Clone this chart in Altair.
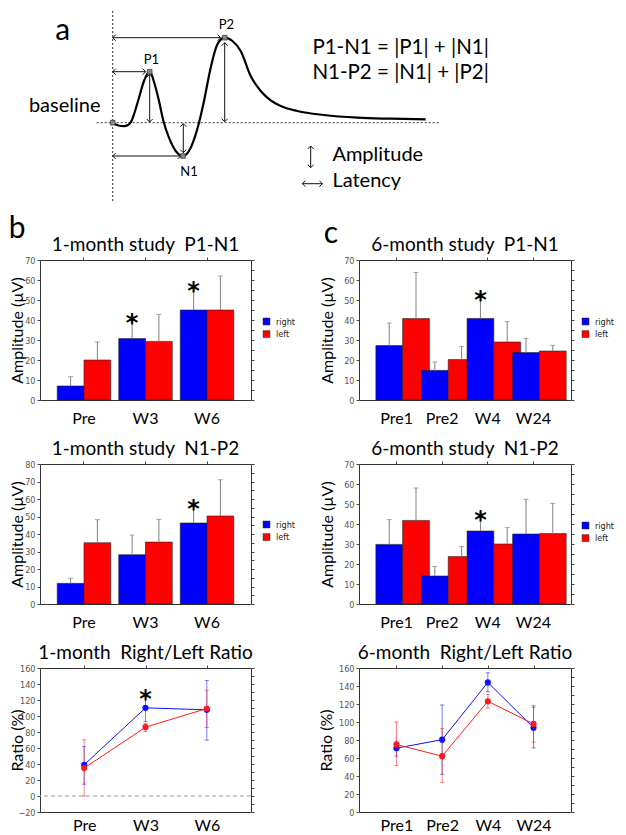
import altair as alt
import pandas as pd

BLUE = "#0000ff"
RED = "#ff0000"
NUMFONT = "'Liberation Sans Narrow', 'DejaVu Sans Condensed', 'Liberation Sans', sans-serif"
TFONT = "Lato"

# ---------------- panel a : schematic waveform ----------------
curve_latency = [0, 5, 11, 16, 19, 21.3, 26.3, 31.3, 37, 42, 46.3, 50.7, 56.3, 63, 70.3, 78, 83,
                 86.3, 91.3, 98, 104.7, 112, 119.7, 128, 138, 148, 158, 168, 184.7, 211, 244.7, 278, 313]
curve_amplitude = [0, -2.6, -3.5, -1.8, 2.2, 8.4, 25, 41.7, 51, 38.4, 21.7, 1.7, -15, -28.3, -33.3, -25, -11.6,
                   0, 21.7, 55, 78.4, 85, 81.7, 71.7, 46.7, 31.7, 22.4, 16.7, 11.7, 7.7, 5, 4, 3.4]
peak_latency = [0, 37, 70.3, 112]
peak_amplitude = [0, 51, -33.3, 85]

lat_arrow_amp = [51, -33.3, 85]
lat_arrow_start = [0, 0, 0]
lat_arrow_end = [33, 68, 108]
amp_arrow_lat = [37, 70.6, 112]
amp_arrow_low = [0.7, -30, 1]
amp_arrow_high = [48.4, -1, 80]
key_v_lat, key_v_low, key_v_high = 198, -45, -23.3
key_h_amp, key_h_start, key_h_end = -61, 189.7, 209.7

a_center_text = ["a", "P1", "P2", "N1", "baseline"]
a_center_lat = [-50, 38.7, 113.7, 76.3, -48]
a_center_amp = [91.7, 62.4, 97.7, -49, 16.7]
a_center_size = [30, 13, 13, 13, 20]
a_left_text = ["P1-N1 = |P1| + |N1|", "N1-P2 = |N1| + |P2|", "Amplitude", "Latency", "b", "c"]
a_left_lat = [199.7, 199.7, 219.7, 219.7, -104, 211]
a_left_amp = [75, 50, -32.3, -58.3, -106.3, -111.3]
a_left_size = [20.5, 20.5, 20, 20, 30, 30]

XS = alt.Scale(domain=[-72.7, 138.3], nice=False, zero=False)
YS = alt.Scale(domain=[-73.3, 113.7], nice=False, zero=False)


def ax(f):
    return alt.X(f, type="quantitative", scale=XS, axis=None)


def ay(f):
    return alt.Y(f, type="quantitative", scale=YS, axis=None)


curve_df = pd.DataFrame({"lat": curve_latency, "amp": curve_amplitude, "i": range(len(curve_latency))})
curve = alt.Chart(curve_df).mark_line(color="black", strokeWidth=2.2, interpolate="monotone").encode(
    x=ax("lat"), y=ay("amp"), order="i:Q")

vline_df = pd.DataFrame({"lat": [0], "lo": [-78.3], "hi": [113.7]})
vline = alt.Chart(vline_df).mark_rule(color="#333", strokeWidth=1, strokeDash=[2, 2]).encode(
    x=ax("lat"), y=ay("lo"), y2="hi")
base_df = pd.DataFrame({"amp": [0], "lo": [-16], "hi": [328]})
baseline = alt.Chart(base_df).mark_rule(color="#333", strokeWidth=1, strokeDash=[2, 2]).encode(
    y=ay("amp"), x=ax("lo"), x2="hi")

segs, heads = [], []
for a, s, e in zip(lat_arrow_amp + [key_h_amp], lat_arrow_start + [key_h_start], lat_arrow_end + [key_h_end]):
    segs.append({"x": s, "y": a, "x2": e, "y2": a})
    heads.append({"x": s, "y": a, "ang": 180})
    heads.append({"x": e, "y": a, "ang": 0})
for l, lo, hi in zip(amp_arrow_lat + [key_v_lat], amp_arrow_low + [key_v_low], amp_arrow_high + [key_v_high]):
    segs.append({"x": l, "y": lo, "x2": l, "y2": hi})
    heads.append({"x": l, "y": lo, "ang": 90})
    heads.append({"x": l, "y": hi, "ang": 270})
seg_chart = alt.Chart(pd.DataFrame(segs)).mark_rule(color="#111", strokeWidth=1).encode(
    x=ax("x"), y=ay("y"), x2="x2", y2="y2")
head_chart = alt.Chart(pd.DataFrame(heads)).mark_point(
    shape="M-1,-1L0,0L-1,1", filled=False, size=36, strokeWidth=1, color="#111", opacity=1).encode(
    x=ax("x"), y=ay("y"), angle=alt.Angle("ang:Q", scale=None))

peaks = alt.Chart(pd.DataFrame({"lat": peak_latency, "amp": peak_amplitude})).mark_square(
    size=22, color="#888", stroke="#333", strokeWidth=0.7, opacity=1).encode(x=ax("lat"), y=ay("amp"))

tc = alt.Chart(pd.DataFrame({"t": a_center_text, "lat": a_center_lat, "amp": a_center_amp, "fs": a_center_size})).mark_text(
    font=TFONT, align="center", baseline="middle", color="black").encode(
    x=ax("lat"), y=ay("amp"), text="t:N", size=alt.Size("fs:Q", scale=None))
tl = alt.Chart(pd.DataFrame({"t": a_left_text, "lat": a_left_lat, "amp": a_left_amp, "fs": a_left_size})).mark_text(
    font=TFONT, align="left", baseline="middle", color="black").encode(
    x=ax("lat"), y=ay("amp"), text="t:N", size=alt.Size("fs:Q", scale=None))

panel_a = alt.layer(vline, baseline, curve, seg_chart, head_chart, peaks, tc, tl).properties(
    width=211, height=187, view=alt.ViewBackground(stroke="transparent"))

blank = alt.Chart(pd.DataFrame({"k": [0]})).mark_point(opacity=0).encode(
    x=alt.value(100), y=alt.value(100)).properties(width=212, height=187,
                                                   view=alt.ViewBackground(stroke="transparent"))

# ---------------- bar data ----------------
m1_cats = ["Pre", "W3", "W6"]
m1_p1n1_right = [7, 30.7, 45]
m1_p1n1_right_sd = [4.7, 11, 12.5]
m1_p1n1_left = [20, 29.3, 45]
m1_p1n1_left_sd = [9, 13.5, 17]
m1_p1n1_sig = ["W3", "W6"]

m1_n1p2_right = [11.8, 28.2, 46.3]
m1_n1p2_right_sd = [2.9, 11.2, 11.6]
m1_n1p2_left = [35, 35.4, 50.3]
m1_n1p2_left_sd = [13.2, 13, 20.7]
m1_n1p2_sig = ["W6"]

m6_cats = ["Pre1", "Pre2", "W4", "W24"]
m6_p1n1_right = [27.2, 14.8, 40.8, 23.7]
m6_p1n1_right_sd = [11.3, 4.2, 12.4, 7.1]
m6_p1n1_left = [40.7, 20.2, 29, 24.5]
m6_p1n1_left_sd = [23.1, 6.6, 10.2, 2.8]
m6_p1n1_sig = ["W4"]

m6_n1p2_right = [29.8, 14, 36.5, 35]
m6_n1p2_right_sd = [12.4, 4.8, 8.5, 17.3]
m6_n1p2_left = [41.8, 23.7, 30, 35.2]
m6_n1p2_left_sd = [16.2, 5, 8.2, 15.1]
m6_n1p2_sig = ["W4"]

# ---------------- ratio data ----------------
r1_p1n1 = [39, 110.2, 107.7]
r1_p1n1_lo = [14.8, 93, 69.8]
r1_p1n1_hi = [61.7, 126, 144.3]
r1_n1p2 = [34.9, 86, 109.4]
r1_n1p2_lo = [0, 80.5, 85.6]
r1_n1p2_hi = [70.2, 90.7, 132.3]
r1_sig = ["W3"]

r6_p1n1 = [70.9, 80.4, 144, 93.7]
r6_p1n1_lo = [62, 41.9, 133.7, 71.2]
r6_p1n1_hi = [78.6, 118.9, 154.7, 116.6]
r6_n1p2 = [75, 62, 123, 97.9]
r6_n1p2_lo = [51.8, 32.8, 115.4, 77.7]
r6_n1p2_hi = [100, 92.6, 130.7, 118.5]
r6_sig = []

sides = ["right", "left"]
series = ["P1-N1", "N1-P2"]


def title(t):
    return alt.TitleParams(t, font=TFONT, fontSize=19, fontWeight="normal", color="black",
                           anchor="middle", frame="group", offset=1)


def yaxis_left(values, ttl, tx):
    return alt.Axis(orient="left", values=values, title=ttl, domain=False, grid=False, tickSize=3,
                    tickColor="#444", labelFont=NUMFONT, labelFontSize=9, labelColor="#555",
                    labelPadding=2, titleFont=TFONT, titleFontSize=16, titleFontWeight="normal",
                    titleColor="black", titleX=tx, titleBaseline="middle", titleAngle=270)


def xaxis_bottom(pad):
    return alt.Axis(title=None, labelAngle=0, ticks=False, domain=False, labelFont=TFONT,
                    labelFontSize=16, labelColor="black", labelPadding=pad)


def top_axis():
    return alt.Axis(orient="top", labels=False, ticks=True, tickSize=3, tickColor="#444",
                    domain=False, title=None)


def right_axis(values):
    return alt.Axis(orient="right", values=values, labels=False, ticks=True, tickSize=3,
                    tickColor="#444", domain=False, grid=False, title=None)


def bar_panel(ttl, cats, r, rsd, l, lsd, sig, ymax, width, pin, pout, lx, ly, tx):
    rows = []
    for i, c in enumerate(cats):
        rows.append({"cat": c, "side": "right", "v": r[i], "top": r[i] + rsd[i], "sig": c in sig})
        rows.append({"cat": c, "side": "left", "v": l[i], "top": l[i] + lsd[i], "sig": False})
    df = pd.DataFrame(rows)
    xs = alt.Scale(paddingInner=pin, paddingOuter=pout)
    ys = alt.Scale(domain=[0, ymax], nice=False)
    xo = alt.XOffset("side:N", sort=sides, scale=alt.Scale(domain=sides, paddingInner=0, paddingOuter=0))
    base = alt.Chart(df)
    bars = base.mark_bar(stroke="#222", strokeWidth=0.6).encode(
        x=alt.X("cat:N", sort=cats, scale=xs, axis=xaxis_bottom(10)),
        xOffset=xo,
        y=alt.Y("v:Q", scale=ys, axis=yaxis_left(list(range(0, ymax + 1, 10)), "Amplitude (µV)", tx)),
        color=alt.Color("side:N", sort=sides, scale=alt.Scale(domain=sides, range=[BLUE, RED]),
                        legend=alt.Legend(orient="none", legendX=lx, legendY=ly, title=None,
                                          symbolType="square", symbolSize=49, symbolStrokeColor="#333",
                                          symbolStrokeWidth=0.5, labelFont=NUMFONT, labelFontSize=9,
                                          labelColor="#222", labelOffset=5, rowPadding=2.6, padding=0)),
    )
    err = base.mark_rule(color="#808080", strokeWidth=1).encode(
        x=alt.X("cat:N", sort=cats, scale=xs, axis=top_axis()),
        xOffset=xo,
        y=alt.Y("v:Q", scale=ys, axis=right_axis(list(range(0, ymax + 1, 5)))),
        y2="top:Q",
    )
    cap = base.mark_tick(color="#808080", thickness=1, size=5).encode(
        x=alt.X("cat:N", sort=cats, scale=xs, axis=None), xOffset=xo,
        y=alt.Y("top:Q", scale=ys, axis=None))
    star = base.transform_filter("datum.sig").mark_text(
        text="*", font="DejaVu Sans", fontWeight="bold", fontSize=24, dy=7, color="black").encode(
        x=alt.X("cat:N", sort=cats, scale=xs, axis=None), xOffset=xo,
        y=alt.Y("top:Q", scale=ys, axis=None))
    return alt.layer(bars, err, cap, star).resolve_axis(x="independent", y="independent").properties(
        title=title(ttl), width=width, height=140)


def ratio_panel(ttl, cats, p, plo, phi, n, nlo, nhi, sig, ymin, width, height, pad, lx, ly, tx, zero_line):
    rows = []
    for i, c in enumerate(cats):
        rows.append({"cat": c, "s": "P1-N1", "m": p[i], "lo": plo[i], "hi": phi[i], "sig": c in sig})
        rows.append({"cat": c, "s": "N1-P2", "m": n[i], "lo": nlo[i], "hi": nhi[i], "sig": False})
    df = pd.DataFrame(rows)
    xs = alt.Scale(type="point", padding=pad)
    ys = alt.Scale(domain=[ymin, 160], nice=False)
    cs = alt.Scale(domain=series, range=["#1010ff", "#ff1a1a"])
    base = alt.Chart(df)
    line = base.mark_line(strokeWidth=1).encode(
        x=alt.X("cat:N", sort=cats, scale=xs, axis=xaxis_bottom(5)),
        y=alt.Y("m:Q", scale=ys, axis=yaxis_left(list(range(ymin, 161, 20)), "Ratio (%)", tx)),
        color=alt.Color("s:N", scale=cs, legend=None),
    )
    err = base.mark_rule(strokeWidth=1, opacity=0.55).encode(
        x=alt.X("cat:N", sort=cats, scale=xs, axis=top_axis()),
        y=alt.Y("lo:Q", scale=ys, axis=right_axis(list(range(ymin, 161, 10)))),
        y2="hi:Q",
        color=alt.Color("s:N", scale=cs, legend=None),
    )
    cap_lo = base.mark_tick(thickness=1, size=4, opacity=0.55).encode(
        x=alt.X("cat:N", sort=cats, scale=xs, axis=None), y=alt.Y("lo:Q", scale=ys, axis=None),
        color=alt.Color("s:N", scale=cs, legend=None))
    cap_hi = base.mark_tick(thickness=1, size=4, opacity=0.55).encode(
        x=alt.X("cat:N", sort=cats, scale=xs, axis=None), y=alt.Y("hi:Q", scale=ys, axis=None),
        color=alt.Color("s:N", scale=cs, legend=None))
    pts = base.mark_circle(size=38, opacity=1).encode(
        x=alt.X("cat:N", sort=cats, scale=xs, axis=None), y=alt.Y("m:Q", scale=ys, axis=None),
        color=alt.Color("s:N", scale=cs,
                        legend=alt.Legend(orient="none", legendX=lx, legendY=ly, title=None,
                                          symbolType="M-2.43,-0.14H2.43V0.14H-2.43Z M-0.86,0A0.86,0.86,0,1,1,0.86,0A0.86,0.86,0,1,1,-0.86,0Z",
                                          symbolSize=49, symbolStrokeWidth=0, symbolOpacity=1,
                                          labelFont=NUMFONT, labelFontSize=9, labelColor="#222",
                                          labelOffset=9, rowPadding=2.6, padding=0)))
    layers = [line, err, cap_lo, cap_hi, pts]
    if zero_line:
        layers.insert(0, alt.Chart(pd.DataFrame({"z": [0]})).mark_rule(
            color="#999", strokeDash=[4, 3], strokeWidth=1).encode(y=alt.Y("z:Q", scale=ys, axis=None)))
    if sig:
        layers.append(base.transform_filter("datum.sig").mark_text(
            text="*", font="DejaVu Sans", fontWeight="bold", fontSize=24, dy=5, color="black").encode(
            x=alt.X("cat:N", sort=cats, scale=xs, axis=None), y=alt.Y("hi:Q", scale=ys, axis=None)))
    return alt.layer(*layers).resolve_axis(x="independent", y="independent").properties(
        title=title(ttl), width=width, height=height)


NB = "\u00a0 "
b1 = bar_panel("1-month study" + NB + "P1-N1", m1_cats, m1_p1n1_right, m1_p1n1_right_sd, m1_p1n1_left,
               m1_p1n1_left_sd, m1_p1n1_sig, 70, 211, 0.13, 0.28, 222, 57, -22.6)
b2 = bar_panel("1-month study" + NB + "N1-P2", m1_cats, m1_n1p2_right, m1_n1p2_right_sd, m1_n1p2_left,
               m1_n1p2_left_sd, m1_n1p2_sig, 80, 211, 0.13, 0.28, 222, 56, -22.6)
b3 = ratio_panel("1-month" + NB + "Right/Left Ratio", m1_cats, r1_p1n1, r1_p1n1_lo, r1_p1n1_hi,
                 r1_n1p2, r1_n1p2_lo, r1_n1p2_hi, r1_sig, -20, 211, 144, 0.72, 221, 60, -23, True)
c1 = bar_panel("6-month study" + NB + "P1-N1", m6_cats, m6_p1n1_right, m6_p1n1_right_sd, m6_p1n1_left,
               m6_p1n1_left_sd, m6_p1n1_sig, 70, 212, 0.09, 0.37, 222, 57, -31.6)
c2 = bar_panel("6-month study" + NB + "N1-P2", m6_cats, m6_n1p2_right, m6_n1p2_right_sd, m6_n1p2_left,
               m6_n1p2_left_sd, m6_n1p2_sig, 70, 212, 0.09, 0.37, 222, 57, -31.6)
c3 = ratio_panel("6-month" + NB + "Right/Left Ratio", m6_cats, r6_p1n1, r6_p1n1_lo, r6_p1n1_hi,
                 r6_n1p2, r6_n1p2_lo, r6_n1p2_hi, r6_sig, 0, 212, 144, 0.82, 221, 62, -33, False)

chart = alt.concat(panel_a, blank, b1, c1, b2, c2, b3, c3, columns=2).properties(
    bounds="flush", spacing={"row": 64, "column": 108}, padding=0, background="white"
).resolve_scale(color="independent").configure_view(stroke="#333", strokeWidth=1)

chart.save("out.html", embed_options={"renderer": "svg", "actions": False})
